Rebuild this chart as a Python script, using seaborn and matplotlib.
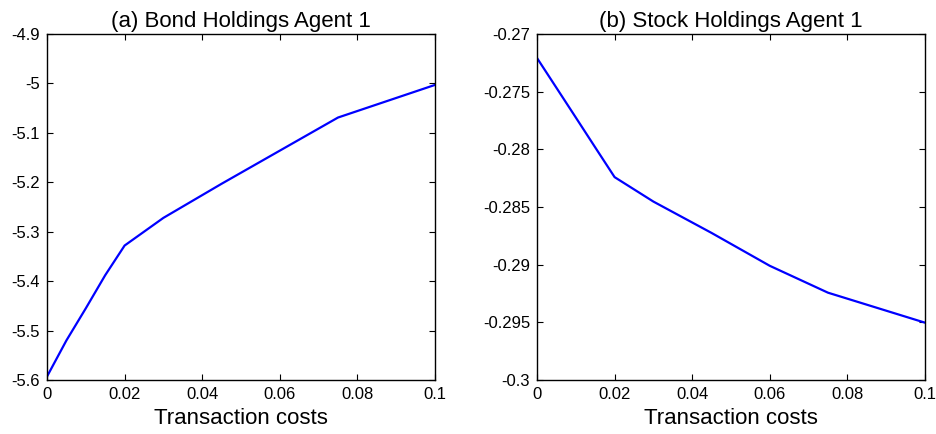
import numpy as np
import pandas as pd
import seaborn as sns
import matplotlib.pyplot as plt

# transaction cost grid
costs = [0.0, 0.005, 0.01, 0.015, 0.02, 0.03, 0.045, 0.06, 0.075, 0.1]

bond_agent1 = [-5.593, -5.520, -5.455, -5.388, -5.328, -5.272, -5.203, -5.136, -5.069, -5.003]
stock_agent1 = [-0.27208, -0.27466, -0.27724, -0.27983, -0.28241, -0.28453, -0.28725, -0.29010,
                -0.29243, -0.29503]

x_ticks = [0, 0.02, 0.04, 0.06, 0.08, 0.1]
x_tick_labels = ['0', '0.02', '0.04', '0.06', '0.08', '0.1']
bond_ticks = [-5.6, -5.5, -5.4, -5.3, -5.2, -5.1, -5.0, -4.9]
bond_tick_labels = ['-5.6', '-5.5', '-5.4', '-5.3', '-5.2', '-5.1', '-5', '-4.9']
stock_ticks = [-0.3, -0.295, -0.29, -0.285, -0.28, -0.275, -0.27]
stock_tick_labels = ['-0.3', '-0.295', '-0.29', '-0.285', '-0.28', '-0.275', '-0.27']


def main():
    sns.set_style('ticks')
    plt.rcParams['font.family'] = ['Liberation Sans', 'DejaVu Sans']
    plt.rcParams['text.color'] = 'black'
    plt.rcParams['xtick.color'] = 'black'
    plt.rcParams['ytick.color'] = 'black'
    plt.rcParams['axes.labelcolor'] = 'black'

    df = pd.DataFrame({'cost': costs, 'bond': bond_agent1, 'stock': stock_agent1})

    fig = plt.figure(figsize=(9.36, 4.34), dpi=100)
    ax1 = fig.add_axes([47 / 936, 54 / 434, 388 / 936, 346 / 434])
    ax2 = fig.add_axes([537 / 936, 54 / 434, 388 / 936, 346 / 434])

    panels = [
        (ax1, 'bond', '(a) Bond Holdings Agent 1', (-5.6, -4.9), bond_ticks, bond_tick_labels),
        (ax2, 'stock', '(b) Stock Holdings Agent 1', (-0.3, -0.27), stock_ticks, stock_tick_labels),
    ]

    for ax, col, title, ylim, yt, ytl in panels:
        sns.lineplot(x='cost', y=col, data=df, ax=ax, color='#0000ff', linewidth=1.6)
        ax.set_xlim(0, 0.1)
        ax.set_ylim(*ylim)
        ax.set_xticks(x_ticks)
        ax.set_xticklabels(x_tick_labels)
        ax.set_yticks(yt)
        ax.set_yticklabels(ytl)
        ax.tick_params(direction='in', top=True, right=True, length=4, width=0.8,
                       labelsize=12, pad=5)
        for s in ax.spines.values():
            s.set_linewidth(1.0)
            s.set_color('black')
        ax.set_title(title, fontsize=16, pad=5)
        ax.set_xlabel('Transaction costs', fontsize=16, labelpad=4)
        ax.set_ylabel('')

    plt.savefig('out.png', dpi=100)


if __name__ == '__main__':
    main()
